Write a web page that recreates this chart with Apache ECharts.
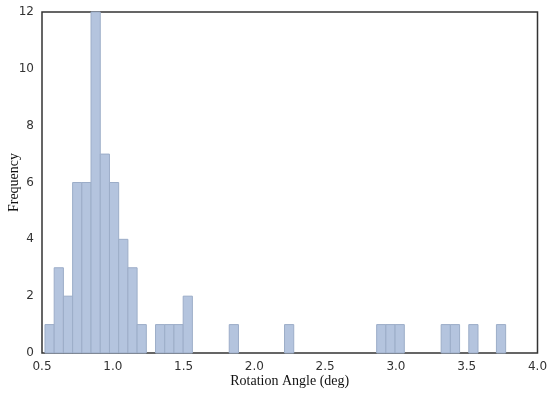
<!DOCTYPE html>
<html><head><meta charset="utf-8">
<script src="https://cdn.jsdelivr.net/npm/echarts@6/dist/echarts.min.js"></script>
<style>html,body{margin:0;padding:0;background:#fff}#c{width:550px;height:398px}</style>
</head><body><div id="c"></div>
<script>
// Histogram: 50 bins between data min and max
const binStart = 0.521;
const binEnd = 3.775;
const counts = [1,3,2,6,6,12,7,6,4,3,1,0,1,1,1,2,0,0,0,0,1,0,0,0,0,0,1,0,0,0,0,0,0,0,0,0,1,1,1,0,0,0,0,1,1,0,1,0,0,1];
const xTicks = [0.5,1.0,1.5,2.0,2.5,3.0,3.5,4.0];
const yTicks = [0,2,4,6,8,10,12];

const nb = counts.length;
const w = (binEnd - binStart) / nb;
const data = [];
counts.forEach((c, i) => { if (c > 0) data.push([binStart + i*w, binStart + (i+1)*w, c]); });

const chart = echarts.init(document.getElementById('c'), null, {renderer:'canvas'});
chart.setOption({
  animation:false,
  backgroundColor:'#fff',
  grid:{left:42, right:12.5, top:12, bottom:45, containLabel:false, outerBoundsMode:'none',
    show:true, borderColor:'#333', borderWidth:1.5, backgroundColor:'transparent'},
  xAxis:{type:'value', min:xTicks[0], max:xTicks[xTicks.length-1], interval:0.5,
    name:'Rotation Angle (deg)', nameLocation:'middle', nameGap:21, nameMoveOverlap:false,
    nameTextStyle:{fontFamily:'Liberation Serif', fontSize:14, color:'#111'},
    axisLine:{show:false}, axisTick:{show:false}, splitLine:{show:false},
    axisLabel:{fontFamily:'DejaVu Sans', fontSize:12, color:'#333', margin:8,
      formatter:v=>v.toFixed(1)}},
  yAxis:{type:'value', min:yTicks[0], max:yTicks[yTicks.length-1], interval:2,
    name:'Frequency', nameLocation:'middle', nameGap:21, nameMoveOverlap:false,
    nameTextStyle:{fontFamily:'Liberation Serif', fontSize:14, color:'#111'},
    axisLine:{show:false}, axisTick:{show:false}, splitLine:{show:false},
    axisLabel:{fontFamily:'DejaVu Sans', fontSize:12, color:'#333', margin:8}},
  series:[{
    type:'custom',
    data:data,
    encode:{x:[0,1], y:2},
    renderItem:(params, api)=>{
      const p0 = api.coord([api.value(0), api.value(2)]);
      const p1 = api.coord([api.value(1), 0]);
      return {type:'rect', shape:{x:p0[0], y:p0[1], width:p1[0]-p0[0], height:p1[1]-p0[1]},
        style:{fill:'#b4c4de', stroke:'#9cadc8', lineWidth:1}};
    }
  }]
});
</script></body></html>
